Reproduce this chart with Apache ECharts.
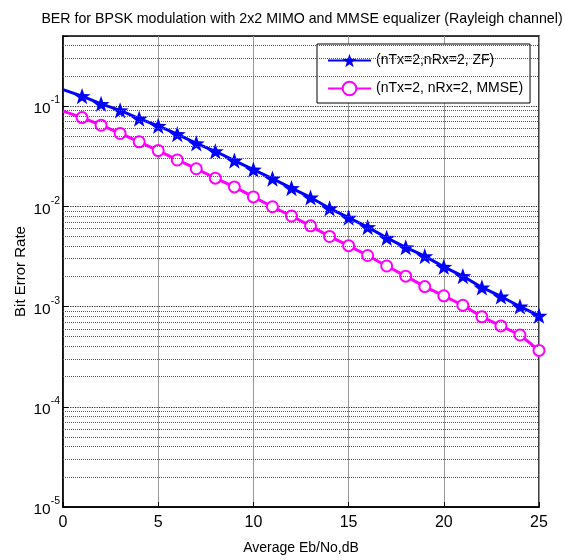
<!DOCTYPE html>
<html>
<head>
<meta charset="utf-8">
<script src="https://cdn.jsdelivr.net/npm/echarts@6/dist/echarts.min.js"></script>
<style>
html, body { margin: 0; padding: 0; background: #fff; }
#main { width: 565px; height: 560px; }
</style>
</head>
<body>
<div id="main"></div>
<script>
// Eb/No (dB)
var ebNo = [0, 1, 2, 3, 4, 5, 6, 7, 8, 9, 10, 11, 12, 13, 14, 15, 16, 17, 18, 19, 20, 21, 22, 23, 24, 25];
// ZF 2x2
var berZF = [0.146, 0.1256, 0.105, 0.0906, 0.075, 0.0634, 0.0525, 0.0424, 0.0354, 0.0286,
    0.0232, 0.0189, 0.0152, 0.01225, 0.00955, 0.0077, 0.0062, 0.00485, 0.0039, 0.00318,
    0.00249, 0.00201, 0.00155, 0.00126, 0.001, 0.00081];
// MMSE 2x2
var berMMSE = [0.089, 0.0767, 0.0644, 0.0533, 0.044, 0.036, 0.029, 0.0237, 0.0191, 0.0156,
    0.0124, 0.0099, 0.008, 0.00638, 0.005, 0.00405, 0.00323, 0.00254, 0.00201, 0.00158,
    0.00128, 0.00103, 0.00079, 0.00064, 0.00052, 0.000365];
var seriesNames = ['(nTx=2,nRx=2, ZF)', '(nTx=2, nRx=2, MMSE)'];
// grid minor lines 2..9 x 10^n
var minorGrid = [];
[-5, -4, -3, -2, -1].forEach(function (e) {
    for (var m = 2; m <= 9; m++) {
        var v = m * Math.pow(10, e);
        if (v < 0.5) minorGrid.push(v);
    }
});

var starPath = 'path://M0,-10 L2.35,-3.24 L9.51,-3.09 L3.8,1.24 L5.88,8.09 L0,4 L-5.88,8.09 L-3.8,1.24 L-9.51,-3.09 L-2.35,-3.24 Z';

function toData(ys) {
    return ebNo.map(function (x, i) {
        var d = { value: [x, ys[i]] };
        if (i === 0) d.symbol = 'none'; // no marker at the left edge
        return d;
    });
}

var font = '"Liberation Sans", Arial, sans-serif';
var myChart = echarts.init(document.getElementById('main'));

var option = {
    animation: false,
    backgroundColor: '#fff',
    title: {
        text: 'BER for BPSK modulation with 2x2 MIMO and MMSE equalizer (Rayleigh channel)',
        left: 297,
        textAlign: 'center',
        top: 7,
        textStyle: { fontFamily: font, fontSize: 14.2, fontWeight: 'normal', color: '#000' }
    },
    grid: {
        left: 63, right: 26, top: 36, bottom: 50,
        show: true, borderColor: '#000', borderWidth: 1.5, backgroundColor: '#fff'
    },
    legend: {
        data: seriesNames,
        orient: 'vertical',
        left: 317,
        top: 44,
        padding: [7, 7, 5, 10],
        itemGap: 9,
        itemWidth: 43,
        itemHeight: 17,
        backgroundColor: '#fff',
        borderColor: '#000',
        borderWidth: 1,
        textStyle: { fontFamily: font, fontSize: 14, color: '#000', lineHeight: 19 }
    },
    xAxis: {
        type: 'value',
        min: 0, max: 25, interval: 5,
        name: 'Average Eb/No,dB',
        nameLocation: 'middle',
        nameGap: 34,
        nameTextStyle: { fontFamily: font, fontSize: 14, color: '#000' },
        axisLine: { lineStyle: { color: '#000', width: 1.5 } },
        axisTick: { inside: true, length: 5, lineStyle: { color: '#000' } },
        axisLabel: { fontFamily: font, fontSize: 16, color: '#000', margin: 8 },
        splitLine: { show: true, lineStyle: { color: '#999', width: 1 } }
    },
    yAxis: {
        type: 'log',
        logBase: 10,
        min: 1e-5, max: 0.5,
        name: 'Bit Error Rate',
        nameLocation: 'middle',
        nameGap: 35,
        nameMoveOverlap: false,
        nameTextStyle: { fontFamily: font, fontSize: 15, color: '#000' },
        axisLine: { lineStyle: { color: '#000', width: 1.5 } },
        axisTick: { inside: true, length: 5, lineStyle: { color: '#000' } },
        axisLabel: {
            margin: 3,
            formatter: function (v) {
                var e = Math.round(Math.log10(v));
                if (Math.abs(Math.pow(10, e) - v) > v * 1e-6) return '';
                return '{b|10}{s|' + e + '}';
            },
            rich: {
                b: { fontFamily: font, fontSize: 15.5, color: '#000', verticalAlign: 'bottom', lineHeight: 22 },
                s: { fontFamily: font, fontSize: 10.5, color: '#000', verticalAlign: 'top', lineHeight: 22 }
            }
        },
        splitLine: { show: true, lineStyle: { color: '#222', type: 'dotted', width: 1.2 } }
    },
    series: [
        {
            name: 'grid',
            type: 'line',
            data: [],
            silent: true,
            z: 1,
            markLine: {
                silent: true,
                symbol: 'none',
                precision: 10,
                label: { show: false },
                animation: false,
                lineStyle: { color: '#555', type: 'dotted', width: 1 },
                data: minorGrid.map(function (v) { return { yAxis: v }; })
            }
        },
        {
            name: seriesNames[0],
            type: 'line',
            data: toData(berZF),
            symbol: starPath,
            symbolKeepAspect: true,
            symbolSize: 17,
            z: 3,
            lineStyle: { color: '#0000ff', width: 3 },
            itemStyle: { color: '#0000ff' }
        },
        {
            name: seriesNames[1],
            type: 'line',
            data: toData(berMMSE),
            symbol: 'emptyCircle',
            symbolSize: 11,
            z: 2,
            lineStyle: { color: '#ff00ff', width: 3 },
            itemStyle: { color: '#ff00ff', borderWidth: 2 }
        }
    ]
};

myChart.setOption(option);
</script>
</body>
</html>
